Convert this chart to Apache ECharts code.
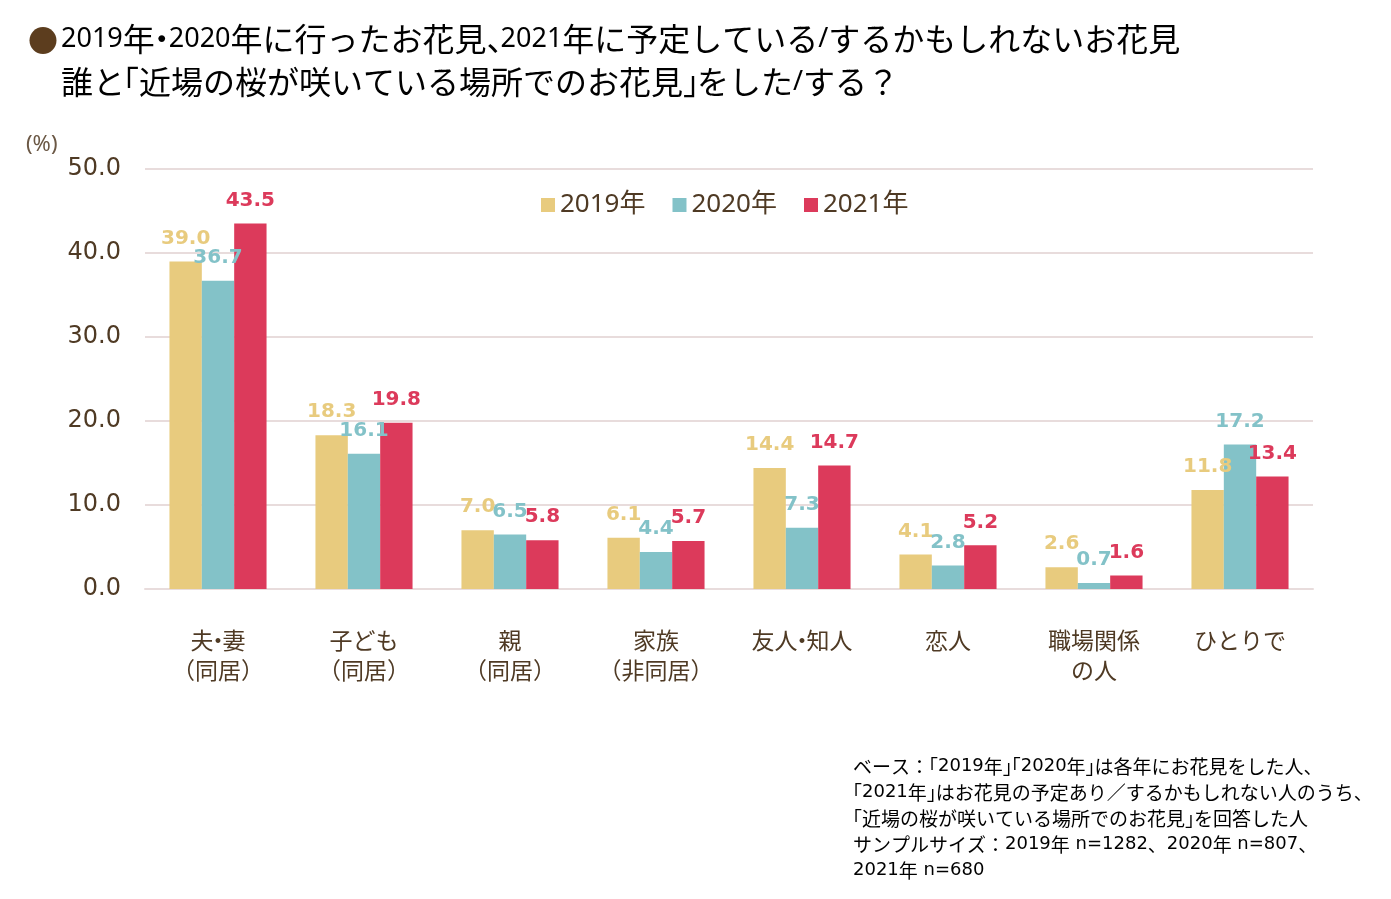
<!DOCTYPE html>
<html>
<head>
<meta charset="utf-8">
<script src="https://cdn.jsdelivr.net/npm/echarts@6/dist/echarts.min.js"></script>
<style>
html,body{margin:0;padding:0;background:#fff;}
#main{width:1391px;height:899px;}
</style>
</head>
<body>
<div id="main"></div>
<script>
const categories = ['夫・妻\n（同居）', '子ども\n（同居）', '親\n（同居）', '家族\n（非同居）', '友人・知人', '恋人', '職場関係\nの人', 'ひとりで'];
const seriesNames = ['2019年', '2020年', '2021年'];
const values2019 = [39.0, 18.3, 7.0, 6.1, 14.4, 4.1, 2.6, 11.8];
const values2020 = [36.7, 16.1, 6.5, 4.4, 7.3, 2.8, 0.7, 17.2];
const values2021 = [43.5, 19.8, 5.8, 5.7, 14.7, 5.2, 1.6, 13.4];
const yTicks = [0, 10, 20, 30, 40, 50];
const titleLine1 = '2019年・2020年に行ったお花見、2021年に予定している/するかもしれないお花見';
const titleLine2 = '誰と「近場の桜が咲いている場所でのお花見」をした/する？';
const unitLabel = '(%)';
const noteLines = [
  'ベース：「2019年」「2020年」は各年にお花見をした人、',
  '「2021年」はお花見の予定あり／するかもしれない人のうち、',
  '「近場の桜が咲いている場所でのお花見」を回答した人',
  'サンプルサイズ：2019年 n=1282、2020年 n=807、',
  '2021年 n=680'
];

const colors = ['#E8CB7E', '#83C2C8', '#DC3A5B'];
const brown = '#4F3A24';
const CJK = '"Noto Sans CJK JP", sans-serif';
const LAT = '"Noto Sans", "Noto Sans CJK JP", sans-serif';
const WIDE = '"DejaVu Sans", "Noto Sans", sans-serif';

// Rich-text styles: CJK runs, latin runs, and narrow (half-width) punctuation
function richStyles(cjkSize, latSize, color, lineHeight, latFont) {
  const half = Math.round(cjkSize * 0.55);
  const base = { fontFamily: CJK, fontSize: cjkSize, color: color, lineHeight: lineHeight };
  return {
    c: Object.assign({}, base),
    l: Object.assign({}, base, { fontFamily: latFont || LAT, fontSize: latSize }),
    ob: Object.assign({}, base, { padding: [0, 0, 0, -half] }),
    cb: Object.assign({}, base, { padding: [0, -half, 0, 0] }),
    md: Object.assign({}, base, { padding: [0, -Math.round(half / 2), 0, -Math.round(half / 2)] })
  };
}
function richify(str, narrow) {
  return str.split('\n').map(line => {
    let out = '';
    const re = /([0-9A-Za-z=.%\/ ()]+)|(.)/g;
    let m, buf = '';
    const flush = () => { if (buf) { out += '{c|' + buf + '}'; buf = ''; } };
    while ((m = re.exec(line)) !== null) {
      if (m[1]) { flush(); out += '{l|' + m[1] + '}'; continue; }
      const ch = m[2];
      if (narrow.open.includes(ch)) { flush(); out += '{ob|' + ch + '}'; }
      else if (narrow.close.includes(ch)) { flush(); out += '{cb|' + ch + '}'; }
      else if (narrow.mid.includes(ch)) { flush(); out += '{md|' + ch + '}'; }
      else buf += ch;
    }
    flush();
    return out;
  }).join('\n');
}
const titleNarrow = { open: '「（', close: '」）、', mid: '・' };
const noteNarrow = { open: '「', close: '」', mid: '' };

const chart = echarts.init(document.getElementById('main'));
const allValues = [values2019, values2020, values2021];

chart.setOption({
  backgroundColor: '#ffffff',
  animation: false,
  color: colors,
  textStyle: { fontFamily: CJK },
  graphic: [
    { type: 'text', left: 28, top: 26, style: { text: '●', fill: '#5C3D1E', font: '30px ' + CJK } },
    { type: 'text', left: 61, top: 23, style: { text: richify(titleLine1, titleNarrow), rich: richStyles(32, 27, '#4F3A24', 42) } },
    { type: 'text', left: 61, top: 66, style: { text: richify(titleLine2, titleNarrow), rich: richStyles(32, 27, '#4F3A24', 42) } },
    { type: 'text', left: 26, top: 134, style: { text: unitLabel, fill: '#6B5845', font: '22px "Noto Sans", sans-serif' } },
    { type: 'text', left: 843, top: 757, style: { text: richify(noteLines.join('\n'), noteNarrow), rich: richStyles(19, 18, '#5A4632', 26, WIDE) } }
  ],
  legend: {
    data: seriesNames,
    top: 187,
    left: 536,
    itemWidth: 14,
    itemHeight: 14,
    itemGap: 27,
    icon: 'rect',
    textStyle: { fontSize: 26, color: brown, fontFamily: LAT }
  },
  grid: { left: 145, right: 78, top: 169, bottom: 310, containLabel: false },
  xAxis: {
    type: 'category',
    data: categories,
    axisLine: { show: true, lineStyle: { color: '#E8DCDC', width: 2 } },
    axisTick: { show: false },
    axisLabel: {
      margin: 36,
      interval: 0,
      formatter: v => richify(v, titleNarrow),
      rich: richStyles(23, 22, brown, 30)
    }
  },
  yAxis: {
    type: 'value',
    min: 0,
    max: 50,
    interval: 10,
    axisLine: { show: false },
    axisTick: { show: false },
    splitLine: { lineStyle: { color: '#E8DCDC', width: 2 } },
    axisLabel: {
      color: brown, fontSize: 24, margin: 24, padding: [9, 0, 0, 0],
      fontFamily: '"DejaVu Sans", Verdana, sans-serif',
      formatter: v => yTicks.includes(v) ? v.toFixed(1) : ''
    }
  },
  series: seriesNames.map((name, i) => ({
    name: name,
    type: 'bar',
    data: allValues[i],
    barGap: '0%',
    barCategoryGap: '33.5%',
    itemStyle: { color: colors[i] },
    label: {
      show: true,
      position: 'top',
      distance: 13,
      color: colors[i],
      fontSize: 20,
      fontWeight: 'bold',
      fontFamily: '"DejaVu Sans", Verdana, sans-serif',
      formatter: p => p.value.toFixed(1)
    }
  }))
});
</script>
</body>
</html>
